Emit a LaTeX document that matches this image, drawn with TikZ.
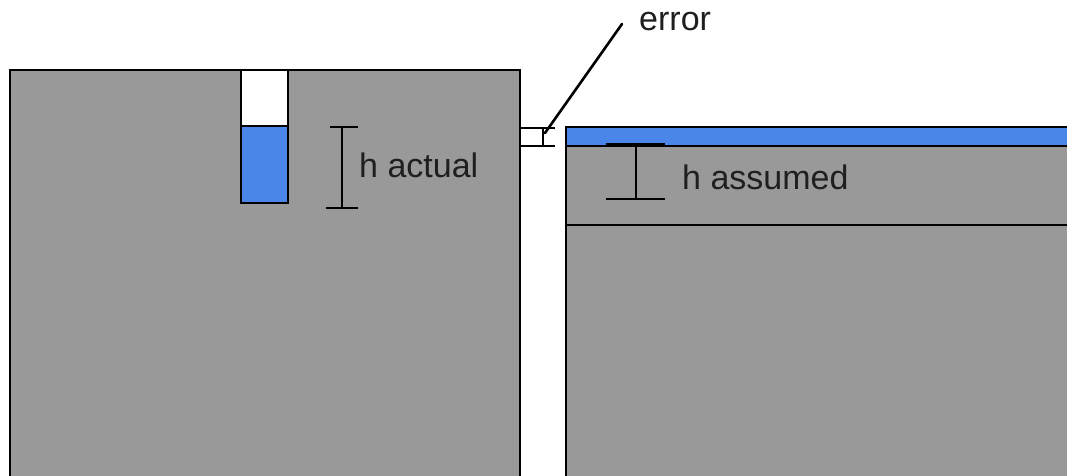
\documentclass[tikz,border=0pt]{standalone}
\usepackage{fontspec}
\setmainfont{Liberation Sans}
\definecolor{blockgray}{HTML}{999999}
\definecolor{waterblue}{HTML}{4A86E8}
\begin{document}
\begin{tikzpicture}[x=1pt,y=-1pt,
  edge/.style={draw=black,line width=2.8pt},
  thin edge/.style={draw=black,line width=2.6pt},
  lbl/.style={font=\fontsize{34}{36}\selectfont,inner sep=0pt,anchor=west,text=black!88}]
\useasboundingbox (0,0) rectangle (1067,476);
\begin{scope}
\clip (0,0) rectangle (1067,476);
% left block
\path[edge,fill=blockgray] (10,70) rectangle (520,490);
% tube
\path[edge,fill=white] (241,70) rectangle (288,126);
\path[edge,fill=waterblue] (241,126) rectangle (288,203);
% right block
\path[edge,fill=blockgray] (566,146) rectangle (1080,490);
\path[edge,fill=waterblue] (566,127) rectangle (1080,146);
\draw[edge] (566,225) -- (1080,225);
% error gap
\draw[thin edge] (520,128) -- (555,128);
\draw[thin edge] (520,146) -- (555,146);
\draw[thin edge] (543,128) -- (543,146);
% h actual bar
\draw[thin edge] (330,127) -- (358,127);
\draw[thin edge] (326,208) -- (358,208);
\draw[thin edge] (342,127) -- (342,208);
% h assumed bar
\draw[thin edge] (606,144) -- (665,144);
\draw[thin edge] (606,199) -- (665,199);
\draw[thin edge] (636,144) -- (636,199);
\end{scope}
\node[lbl] (hact) at (359,165) {h actual};
\node[lbl] (hass) at (682,177) {h assumed};
\node[lbl] (err) at (639,22) {error};
\coordinate (errpt) at (545,133);
\coordinate (errstart) at (622,24);
\draw[thin edge,line cap=round] (errstart) -- (errpt);
\end{tikzpicture}
\end{document}
